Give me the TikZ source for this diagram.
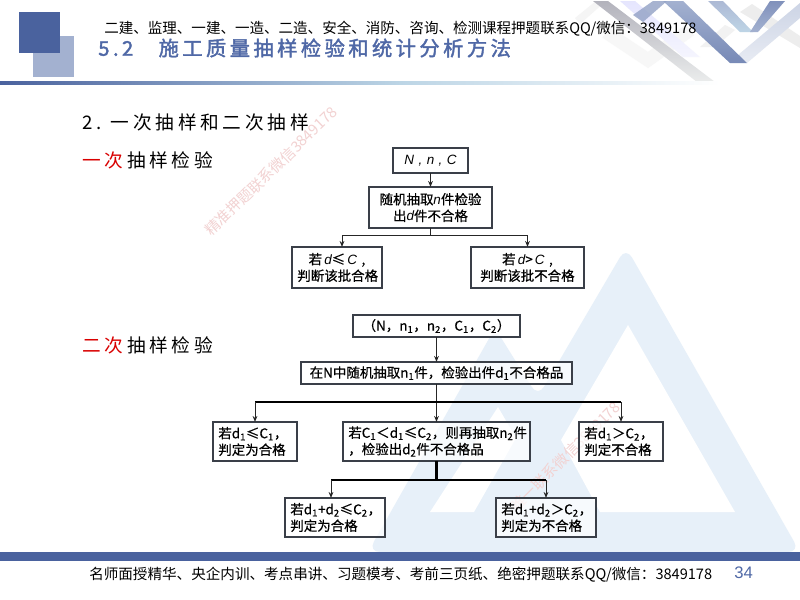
\documentclass[tikz,border=0pt]{standalone}
\usepackage{fontspec}
\usetikzlibrary{arrows.meta,calc}
\setmainfont{Noto Sans CJK SC}
\newfontfamily\latinsans{Liberation Sans}
\newfontfamily\boxfont[FakeBold=0.5]{Noto Sans CJK SC}
\newfontfamily\titlefont[LetterSpace=17,FakeBold=1.8]{Noto Sans CJK SC}
\newfontfamily\bodyfont[LetterSpace=20]{Noto Sans CJK SC}
\definecolor{barblue}{HTML}{4A629E}
\definecolor{sqlight}{HTML}{A3B1D0}
\definecolor{tribg}{HTML}{E7F0F9}
\definecolor{wmark}{HTML}{F2D2D2}
\definecolor{titleblue}{HTML}{4F68A6}
\definecolor{edgegray}{HTML}{3A3F48}
\tikzset{
  flow/.style={draw=edgegray,line width=0.8pt,fill=white,fill opacity=0.7,text opacity=1,inner xsep=4pt,inner ysep=0pt,outer sep=0pt,
    font=\boxfont\fontsize{10.1}{12.4}\selectfont},
  link/.style={line width=0.75pt,draw=black!85,-{Stealth[length=4.5pt,width=3.5pt]}},
  linkthick/.style={line width=1.7pt,draw=black},
  tip/.style={line width=0.75pt,draw=black!85,-{Stealth[length=4.5pt,width=3.5pt]}},
  watermark/.style={text=wmark,font=\fontsize{11.2}{12}\selectfont,inner sep=0pt},
  bodytext/.style={anchor=west,inner sep=0pt,font=\bodyfont\fontsize{14}{16}\selectfont},
}
\newcommand{\flowbox}[7]{%
  \pgfmathsetmacro{\bw}{(#4-#2)*0.75-8}%
  \pgfmathsetmacro{\bh}{(#5-#3)*0.75}%
  \pgfmathsetmacro{\bcx}{(#2+#4)/2}%
  \pgfmathsetmacro{\bcy}{(#3+#5)/2}%
  \node[flow,text width=\bw pt,minimum height=\bh pt,align=#6] (#1) at (\bcx,\bcy) {#7};}
\newcommand{\lo}[1]{\textsubscript{#1}}
\begin{document}
\begin{tikzpicture}[x=0.75pt,y=-0.75pt]
\useasboundingbox (0,0) rectangle (800,600);
\fill[white] (0,0) rectangle (800,600);
% background triangles
\fill[tribg,rounded corners=9pt] (368,552) -- (495,328) -- (538,397) -- (626,247) -- (800,552) -- cycle;
\fill[white] (498,407) -- (516,438) -- (474,512) -- (430,512) -- cycle;
\fill[white] (628,325) -- (735,512) -- (600,512) -- (561,440) -- cycle;
% watermarks
\node[watermark,rotate=44] (wm1) at (271,171) {精准押题联系微信3849178};
\node[watermark,rotate=45] (wm2) at (565.5,456.5) {唯一联系微信3849178};
% lattice
\fill[black!4] (575,18) -- (580,24) -- (606,1) -- (596,1) -- cycle;
\draw[line width=10pt,color=black!4,opacity=.8] (606,32) -- (648,60) -- (690,30);
\fill[black!7] (740,12) -- (752,4) -- (800,36) -- (800,48) -- cycle;
\fill[black!5] (700,47) -- (715,47) -- (735,30) -- (725,25) -- cycle;
\shade[top color=sqlight!55,bottom color=sqlight!25] (738,55) -- (747,63) -- (800,18) -- (800,3) -- cycle;
\shade[top color=black!6!blue!10!white,bottom color=black!6!blue!4!white] (620,1) -- (635,1) -- (700,57) -- (683,57) -- cycle;
\shade[top color=blue!12!black!30!white,bottom color=cyan!8!black!8!white] (593,1) -- (608,1) -- (715,82) -- (697,82) -- cycle;
\shade[top color=sqlight,bottom color=barblue!75] (663,1) -- (683,1) -- (747,63) -- (730,63) -- cycle;
\fill[barblue!60,opacity=.8] (633,15) -- (643,22) -- (667,1) -- (653,1) -- cycle;
\shade[top color=sqlight!90,bottom color=cyan!10!sqlight!60] (708,1) -- (723,1) -- (753,32) -- (740,32) -- cycle;
\shade[top color=barblue!70,bottom color=sqlight] (770,1) -- (785,1) -- (758,32) -- (750,32) -- cycle;
% header
\fill[sqlight] (33,36) rectangle (74,77);
\fill[barblue] (19,12) rectangle (60,53);
\shade[left color=barblue,right color=black!5!cyan!12!sqlight!60] (0,81) rectangle (400,84);
\shade[left color=black!5!cyan!12!sqlight!60,right color=white] (400,81) rectangle (720,84);
\node[anchor=west,inner sep=0pt,font=\fontsize{10.9}{13}\selectfont] (toptext) at (104,29) {二建、监理、一建、一造、二造、安全、消防、咨询、检测课程押题联系QQ/微信：3849178};
\node[anchor=west,inner sep=0pt,text=titleblue,font=\titlefont\fontsize{15.2}{18}\selectfont] (title) at (98,48) {5.2\hspace{1.25em}施工质量抽样检验和统计分析方法};
% left texts
\node[bodytext] (h2) at (82,122) {2.\hspace{0.5em}一次抽样和二次抽样};
\node[bodytext] (h3) at (82,160) {\textcolor{red!85!black}{一次}\hspace{0.2em}抽样检验};
\node[bodytext] (h4) at (82,345) {\textcolor{red!85!black}{二次}\hspace{0.2em}抽样检验};
% first flow
\flowbox{a}{393}{148}{468}{173}{center}{{\latinsans\itshape N , n , C}}
\flowbox{b}{369}{187}{492}{228}{center}{随机抽取{\latinsans\itshape n}件检验\\出{\latinsans\itshape d}件不合格}
\flowbox{c}{292}{247}{382}{288}{center}{若\,{\latinsans\itshape d}≤\,{\latinsans\itshape C} ,\\判断该批合格}
\flowbox{e}{471}{247}{584}{288}{center}{若\,{\latinsans\itshape d}>\,{\latinsans\itshape C} ,\\判断该批不合格}
\draw[link] (a.south) -- (b.north);
\coordinate (ja) at (b.south |- 0,235);
\draw[line width=0.9pt,draw=black!85] (b.south) -- (ja);
\draw[tip] (ja) -| ($(c.north)+(5,0)$);
\draw[tip] (ja) -| (e.north);
% second flow
\flowbox{p}{353}{315}{520}{337}{center}{（N，n\lo{1}，n\lo{2}，C\lo{1}，C\lo{2}）}
\flowbox{q}{301}{362}{572}{384}{center}{在N中随机抽取n\lo{1}件，检验出件d\lo{1}不合格品}
\flowbox{r}{213}{422}{297}{461}{left}{若d\lo{1}≤C\lo{1}，\\判定为合格}
\flowbox{s}{343}{422}{530}{461}{left}{若C\lo{1}＜d\lo{1}≤C\lo{2}，则再抽取n\lo{2}件\\，检验出d\lo{2}件不合格品}
\flowbox{t}{579}{422}{663}{461}{left}{若d\lo{1}＞C\lo{2}，\\判定不合格}
\flowbox{u}{285}{498}{385}{537}{left}{若d\lo{1}+d\lo{2}≤C\lo{2}，\\判定为合格}
\flowbox{v}{496}{498}{596}{537}{left}{若d\lo{1}+d\lo{2}＞C\lo{2}，\\判定为不合格}
\draw[link] (p.south) -- (q.north);
\coordinate (jb) at (q.south |- 0,402);
\draw[line width=0.9pt,draw=black!85] (q.south) -- (jb);
\draw[link] (jb) -- (s.north);
\draw[linkthick] (r.north |- jb) -- (t.north |- jb);
\draw[tip] (r.north |- jb) -- (r.north);
\draw[tip] (t.north |- jb) -- (t.north);
\coordinate (jc) at (s.south |- 0,480);
\draw[linkthick] (s.south) -- (jc);
\draw[linkthick] ($(u.north |- jc)+(-4,0)$) -- (v.north |- jc);
\draw[tip] ($(u.north |- jc)+(-4,0)$) -- ($(u.north)+(-4,0)$);
\draw[tip] (v.north |- jc) -- (v.north);
% footer
\fill[barblue] (0,552) rectangle (800,561);
\node[anchor=west,inner sep=0pt,font=\fontsize{10.93}{13}\selectfont] (foot) at (89,575) {名师面授精华、央企内训、考点串讲、习题模考、考前三页纸、绝密押题联系QQ/微信：3849178};
\node[anchor=west,inner sep=0pt,text=titleblue,font=\latinsans\fontsize{12.5}{14}\selectfont] (pg) at (734,573) {34};
\end{tikzpicture}
\end{document}
